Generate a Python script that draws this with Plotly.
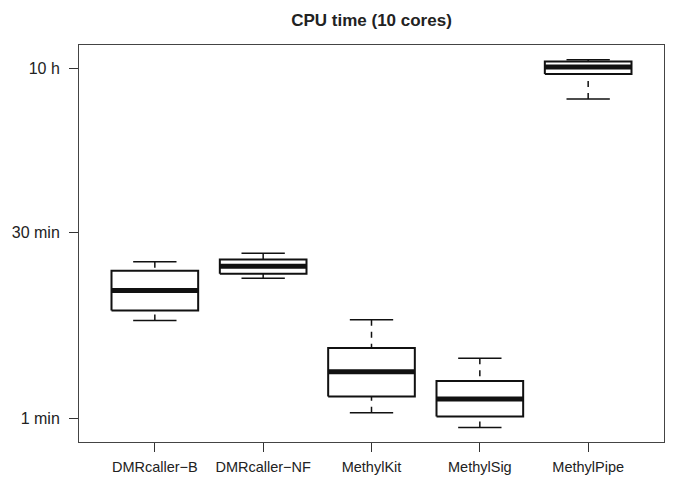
import plotly.graph_objects as go

categories = ["DMRcaller\u2212B", "DMRcaller\u2212NF", "MethylKit", "MethylSig", "MethylPipe"]
# values in minutes
whisker_low = [6.0, 13.0, 1.11, 0.85, 345]
q1 = [7.2, 14.1, 1.50, 1.04, 544]
median = [10.4, 16.2, 2.35, 1.43, 618]
q3 = [14.9, 18.3, 3.64, 1.99, 685]
whisker_high = [17.6, 20.5, 6.1, 3.01, 706]

tick_vals = [1, 30, 600]
tick_text = ["1 min", "30 min", "10 h"]

BOX_HALF = 0.4
CAP_HALF = 0.2

box_x, box_y = [], []
med_x, med_y = [], []
wh_x, wh_y = [], []
cap_x, cap_y = [], []
for i, c in enumerate(categories):
    p = i + 1
    box_x += [p - BOX_HALF, p + BOX_HALF, p + BOX_HALF, p - BOX_HALF, p - BOX_HALF, None]
    box_y += [q1[i], q1[i], q3[i], q3[i], q1[i], None]
    med_x += [p - BOX_HALF, p + BOX_HALF, None]
    med_y += [median[i], median[i], None]
    wh_x += [p, p, None, p, p, None]
    wh_y += [whisker_low[i], q1[i], None, whisker_high[i], q3[i], None]
    cap_x += [p - CAP_HALF, p + CAP_HALF, None, p - CAP_HALF, p + CAP_HALF, None]
    cap_y += [whisker_low[i], whisker_low[i], None, whisker_high[i], whisker_high[i], None]

fig = go.Figure()
fig.add_trace(go.Scatter(x=wh_x, y=wh_y, mode="lines",
                         line=dict(color="#111111", width=1.5, dash="6px,6px"),
                         hoverinfo="skip", showlegend=False))
fig.add_trace(go.Scatter(x=cap_x, y=cap_y, mode="lines",
                         line=dict(color="#111111", width=1.5),
                         hoverinfo="skip", showlegend=False))
fig.add_trace(go.Scatter(x=box_x, y=box_y, mode="lines", fill="toself", fillcolor="white",
                         line=dict(color="#111111", width=2),
                         hoverinfo="skip", showlegend=False))
fig.add_trace(go.Scatter(x=med_x, y=med_y, mode="lines",
                         line=dict(color="#111111", width=5),
                         hoverinfo="skip", showlegend=False))

fig.update_layout(
    width=674, height=478,
    margin=dict(l=79, r=10, t=45, b=36),
    paper_bgcolor="white", plot_bgcolor="white",
    font=dict(family="Liberation Sans, Arial, sans-serif", size=12, color="#222222"),
    title=dict(text="<b>CPU time (10 cores)</b>", x=0.5, xanchor="center",
               xref="paper", y=0.958, yanchor="middle",
               font=dict(size=17, color="#222222")),
)
fig.update_xaxes(
    range=[0.3, 5.7], tickmode="array", tickvals=list(range(1, len(categories) + 1)),
    ticktext=categories, ticks="outside", ticklen=9, tickcolor="#333333", tickwidth=1,
    showline=True, linecolor="#444444", linewidth=1, mirror=True,
    showgrid=False, zeroline=False, ticklabelstandoff=3, automargin=False,
    tickfont=dict(size=14.5, color="#222222"),
)
fig.update_yaxes(
    type="log", range=[-0.186, 2.966], tickmode="array", tickvals=tick_vals,
    ticktext=tick_text, ticks="outside", ticklen=9, tickcolor="#333333", tickwidth=1,
    showline=True, linecolor="#444444", linewidth=1, mirror=True,
    showgrid=False, zeroline=False, ticklabelstandoff=6, automargin=False,
    tickfont=dict(size=16, color="#222222"),
)

fig.write_html("out.html")
